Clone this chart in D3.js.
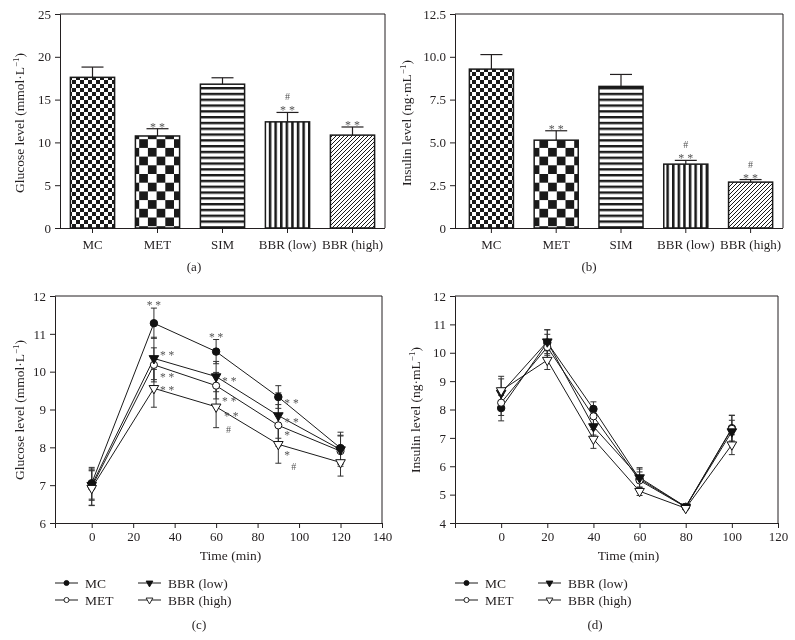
<!DOCTYPE html>
<html><head><meta charset="utf-8">
<script src="https://cdn.jsdelivr.net/npm/d3@7"></script>
<style>
body{margin:0;background:#fff;}
svg{display:block;will-change:transform;}
text{font-family:"Liberation Serif","DejaVu Serif",serif;fill:#231f20;}
</style></head>
<body>
<svg id="chart" width="795" height="640"></svg>
<script>
// ---------- data ----------
const barCats = ["MC", "MET", "SIM", "BBR (low)", "BBR (high)"];
const glucoseBar = [17.6, 10.75, 16.8, 12.4, 10.85];
const glucoseBarErr = [1.2, 0.85, 0.75, 1.1, 0.95];
const glucoseBarSig = ["", "**", "", "**", "**"];
const glucoseBarHash = ["", "", "", "#", ""];
const glucoseTicks = [0, 5, 10, 15, 20, 25];

const insulinBar = [9.28, 5.13, 8.27, 3.73, 2.68];
const insulinBarErr = [0.85, 0.55, 0.7, 0.22, 0.15];
const insulinBarSig = ["", "**", "", "**", "**"];
const insulinBarHash = ["", "", "", "#", "#"];
const insulinTicks = [0, 2.5, 5.0, 7.5, 10.0, 12.5];

const seriesNames = ["MC", "MET", "BBR (low)", "BBR (high)"];

const ogttTimes = [0, 30, 60, 90, 120];
const ogttMC   = [7.05, 11.28, 10.53, 9.33, 7.98];
const ogttMET  = [6.95, 10.18, 9.63, 8.58, 7.90];
const ogttLow  = [7.00, 10.35, 9.87, 8.84, 7.94];
const ogttHigh = [6.92, 9.56, 9.07, 8.08, 7.60];
const ogttMCErr   = [0.42, 0.40, 0.32, 0.30, 0.42];
const ogttMETErr  = [0.48, 0.45, 0.35, 0.55, 0.40];
const ogttLowErr  = [0.40, 0.56, 0.40, 0.60, 0.38];
const ogttHighErr = [0.46, 0.50, 0.55, 0.50, 0.36];
const ogttYTicks = [6, 7, 8, 9, 10, 11, 12];
const ogttXTicks = [0, 20, 40, 60, 80, 100, 120, 140];
// significance marks: [series index, time index, text]
const ogttSig = [
  [0, 1, "* *"], [2, 1, "* *"], [1, 1, "* *"], [3, 1, "* *"],
  [0, 2, "* *"], [2, 2, "* *"], [1, 2, "* *"], [3, 2, "* *"], [3, 2, "#"],
  [0, 3, "* *"], [2, 3, "* *"], [1, 3, "*"], [3, 3, "*"], [3, 3, "#"]
];

const itTimes = [0, 20, 40, 60, 80, 100];
const itMC   = [8.05, 10.36, 8.02, 5.55, 4.57, 7.34];
const itMET  = [8.24, 10.20, 7.76, 5.50, 4.56, 7.32];
const itLow  = [8.58, 10.39, 7.40, 5.60, 4.57, 7.22];
const itHigh = [8.67, 9.74, 6.96, 5.12, 4.52, 6.76];
const itMCErr   = [0.45, 0.45, 0.25, 0.35, 0.05, 0.45];
const itMETErr  = [0.45, 0.45, 0.30, 0.30, 0.05, 0.48];
const itLowErr  = [0.50, 0.42, 0.30, 0.35, 0.05, 0.40];
const itHighErr = [0.50, 0.33, 0.33, 0.15, 0.05, 0.35];
const itYTicks = [4, 5, 6, 7, 8, 9, 10, 11, 12];
const itXTicks = [0, 20, 40, 60, 80, 100, 120];

// ---------- drawing ----------
const svg = d3.select("#chart");
const defs = svg.append("defs");

function markText(sel) {
  return sel.style("fill", "#555");
}

function pat(id, w, h, build) {
  const p = defs.append("pattern").attr("id", id).attr("patternUnits", "userSpaceOnUse")
    .attr("width", w).attr("height", h);
  p.append("rect").attr("width", w).attr("height", h).attr("fill", "#fff");
  build(p);
}
pat("pFine", 8, 8, p => {
  p.append("rect").attr("x", 0).attr("y", 0).attr("width", 4).attr("height", 4).attr("fill", "#1a1a1a");
  p.append("rect").attr("x", 4).attr("y", 4).attr("width", 4).attr("height", 4).attr("fill", "#1a1a1a");
});
pat("pCoarse", 17.4, 17.4, p => {
  p.append("rect").attr("x", 0).attr("y", 0).attr("width", 8.7).attr("height", 8.7).attr("fill", "#1a1a1a");
  p.append("rect").attr("x", 8.7).attr("y", 8.7).attr("width", 8.7).attr("height", 8.7).attr("fill", "#1a1a1a");
});
pat("pH", 8, 5.8, p => {
  p.append("rect").attr("x", 0).attr("y", 0).attr("width", 8).attr("height", 2.4).attr("fill", "#1a1a1a");
});
pat("pV", 5.6, 8, p => {
  p.append("rect").attr("x", 0).attr("y", 0).attr("width", 2.5).attr("height", 8).attr("fill", "#1a1a1a");
});
pat("pD", 4, 4, p => {
  p.append("path").attr("d", "M-1,1 L1,-1 M0,4 L4,0 M3,5 L5,3")
    .attr("stroke", "#1a1a1a").attr("stroke-width", 1);
});
const barPatterns = ["url(#pFine)", "url(#pCoarse)", "url(#pH)", "url(#pV)", "url(#pD)"];

function yTitle(x, yc, main, tail) {
  const t = svg.append("text").attr("transform", `translate(${x},${yc}) rotate(-90)`)
    .attr("text-anchor", "middle").attr("font-size", 13.5);
  t.append("tspan").text(main);
  t.append("tspan").attr("font-size", 9).attr("dy", -5).text("−1");
  t.append("tspan").attr("dy", 5).text(tail);
}

function styleAxis(g) {
  g.selectAll("path,line").attr("stroke", "#231f20").attr("stroke-width", 1);
  g.selectAll("text").attr("font-size", 13).attr("fill", "#231f20")
    .attr("font-family", '"Liberation Serif","DejaVu Serif",serif');
}

function frame(L, R, T, B) {
  svg.append("path").attr("d", `M${L},${T} H${R} V${B}`).attr("fill", "none")
    .attr("stroke", "#231f20").attr("stroke-width", 1);
}

function barPanel(o) {
  const {L, R, T, B, bandL, bandR, vals, errs, sig, hash, ticks, fmt, max} = o;
  const x = d3.scaleBand().domain(barCats).range([bandL, bandR]).paddingInner(0.32).paddingOuter(0.16);
  const y = d3.scaleLinear().domain([0, max]).range([B, T]);
  frame(L, R, T, B);
  const ga = svg.append("g").attr("transform", `translate(${L},0)`)
    .call(d3.axisLeft(y).tickValues(ticks).tickSize(5).tickPadding(4).tickFormat(fmt));
  styleAxis(ga);
  const gb = svg.append("g").attr("transform", `translate(0,${B})`)
    .call(d3.axisBottom(x).tickSize(5).tickPadding(7));
  styleAxis(gb);
  gb.select(".domain").attr("d", `M${L},0.5H${R}`);
  const g = svg.append("g");
  barCats.forEach((c, i) => {
    const cx = x(c) + x.bandwidth() / 2;
    const top = y(vals[i] + errs[i]);
    g.append("line").attr("x1", cx).attr("x2", cx).attr("y1", y(vals[i])).attr("y2", top)
      .attr("stroke", "#231f20").attr("stroke-width", 1.2);
    g.append("line").attr("x1", cx - 11).attr("x2", cx + 11).attr("y1", top).attr("y2", top)
      .attr("stroke", "#231f20").attr("stroke-width", 1.2);
    g.append("rect").attr("x", x(c)).attr("y", y(vals[i])).attr("width", x.bandwidth())
      .attr("height", y(0) - y(vals[i])).attr("fill", barPatterns[i])
      .attr("stroke", "#1a1a1a").attr("stroke-width", 1.5);
    if (sig[i]) markText(g.append("text").attr("x", cx).attr("y", top + 2).attr("text-anchor", "middle")
      .attr("font-size", 12)).text("* *");
    if (hash[i]) markText(g.append("text").attr("x", cx).attr("y", top - 12).attr("text-anchor", "middle")
      .attr("font-size", 10)).text(hash[i]);
  });
}

const sym = [
  {type: d3.symbolCircle, fill: "#111", size: 44, rot: 0},
  {type: d3.symbolCircle, fill: "#fff", size: 40, rot: 0},
  {type: d3.symbolTriangle, fill: "#111", size: 40, rot: 180},
  {type: d3.symbolTriangle, fill: "#fff", size: 40, rot: 180}
];

function linePanel(o) {
  const {L, R, T, B, xDom, yDom, times, series, errs, xTicks, yTicks} = o;
  const x = d3.scaleLinear().domain(xDom).range([L, R]);
  const y = d3.scaleLinear().domain(yDom).range([B, T]);
  frame(L, R, T, B);
  const ga = svg.append("g").attr("transform", `translate(${L},0)`)
    .call(d3.axisLeft(y).tickValues(yTicks).tickSize(5).tickPadding(4).tickFormat(d3.format("d")));
  styleAxis(ga);
  const gb = svg.append("g").attr("transform", `translate(0,${B})`)
    .call(d3.axisBottom(x).tickValues(xTicks).tickSize(5).tickPadding(4).tickFormat(d3.format("d")));
  styleAxis(gb);
  const line = d3.line().x((d, i) => x(times[i])).y(d => y(d));
  const g = svg.append("g");
  series.forEach((s) => {
    g.append("path").datum(s).attr("d", line).attr("fill", "none")
      .attr("stroke", "#1a1a1a").attr("stroke-width", 1);
  });
  series.forEach((s, k) => {
    s.forEach((v, i) => {
      const cx = x(times[i]);
      const y1 = y(v + errs[k][i]), y2 = y(v - errs[k][i]);
      g.append("line").attr("x1", cx).attr("x2", cx).attr("y1", y1).attr("y2", y2)
        .attr("stroke", "#333").attr("stroke-width", 1);
      [y1, y2].forEach(yy => g.append("line").attr("x1", cx - 3).attr("x2", cx + 3)
        .attr("y1", yy).attr("y2", yy).attr("stroke", "#333").attr("stroke-width", 1));
    });
  });
  series.forEach((s, k) => {
    s.forEach((v, i) => {
      g.append("path").attr("d", d3.symbol().type(sym[k].type).size(sym[k].size)())
        .attr("transform", `translate(${x(times[i])},${y(v)}) rotate(${sym[k].rot})`)
        .attr("fill", sym[k].fill).attr("stroke", "#111").attr("stroke-width", 1);
    });
  });
  svg.append("text").attr("x", (L + R) / 2 + 12).attr("y", B + 37).attr("text-anchor", "middle")
    .attr("font-size", 13.5).text("Time (min)");
  return {x, y};
}

function legend(x0, y0, x1) {
  const cols = [x0, x0, x1, x1], rows = [y0, y0 + 17, y0, y0 + 17];
  seriesNames.forEach((n, k) => {
    const lx = cols[k], ly = rows[k];
    svg.append("line").attr("x1", lx).attr("x2", lx + 23).attr("y1", ly).attr("y2", ly)
      .attr("stroke", "#1a1a1a").attr("stroke-width", 1);
    svg.append("path").attr("d", d3.symbol().type(sym[k].type).size(20)())
      .attr("transform", `translate(${lx + 11.5},${ly}) rotate(${sym[k].rot})`)
      .attr("fill", sym[k].fill).attr("stroke", "#111").attr("stroke-width", 0.9);
    svg.append("text").attr("x", lx + 30).attr("y", ly + 4.5).attr("font-size", 13.5).text(n);
  });
}

function panelLabel(x, y, t) {
  svg.append("text").attr("x", x).attr("y", y).attr("text-anchor", "middle").attr("font-size", 13).text(t);
}

// (a)
barPanel({L: 60, R: 385, T: 14, B: 228, bandL: 60, bandR: 385, vals: glucoseBar, errs: glucoseBarErr,
  sig: glucoseBarSig, hash: glucoseBarHash, ticks: glucoseTicks, fmt: d3.format("d"), max: 25});
yTitle(24, 123, "Glucose level (mmol·L", ")");
panelLabel(194, 271, "(a)");

// (b)
barPanel({L: 455, R: 783, T: 14, B: 228, bandL: 459, bandR: 783, vals: insulinBar, errs: insulinBarErr,
  sig: insulinBarSig, hash: insulinBarHash, ticks: insulinTicks,
  fmt: d => d === 0 ? "0" : d3.format(".1f")(d), max: 12.5});
yTitle(411, 123, "Insulin level (ng·mL", ")");
panelLabel(589, 271, "(b)");

// (c)
const pc = linePanel({L: 55, R: 382, T: 296, B: 523, xDom: [-17.7, 140], yDom: [6, 12],
  times: ogttTimes, series: [ogttMC, ogttMET, ogttLow, ogttHigh],
  errs: [ogttMCErr, ogttMETErr, ogttLowErr, ogttHighErr], xTicks: ogttXTicks, yTicks: ogttYTicks});
yTitle(24, 410, "Glucose level (mmol·L", ")");
{
  const ser = [ogttMC, ogttMET, ogttLow, ogttHigh];
  const errS = [ogttMCErr, ogttMETErr, ogttLowErr, ogttHighErr];
  // baseline offsets (px) for each significance mark, in the same order as ogttSig
  const off = [[0, "above"], [6, 1], [6, 16], [6, 6], [0, "above"], [6, 8], [6, 19], [8, 13], [10, 26],
               [6, 10], [6, 10], [6, 14], [6, 15], [13, 26]];
  ogttSig.forEach(([k, i, t], j) => {
    const px = pc.x(ogttTimes[i]), py = pc.y(ser[k][i]);
    const [dx, dy] = off[j];
    if (dy === "above") {
      markText(svg.append("text").attr("x", px).attr("y", pc.y(ser[k][i] + errS[k][i]) + 1)
        .attr("text-anchor", "middle").attr("font-size", 11.5)).text(t);
    } else {
      markText(svg.append("text").attr("x", px + dx).attr("y", py + dy)
        .attr("font-size", t === "#" ? 10 : 11.5)).text(t);
    }
  });
}
legend(55, 583, 138);
panelLabel(199, 629, "(c)");

// (d)
linePanel({L: 455, R: 778, T: 296, B: 523, xDom: [-20, 120], yDom: [4, 12],
  times: itTimes, series: [itMC, itMET, itLow, itHigh],
  errs: [itMCErr, itMETErr, itLowErr, itHighErr], xTicks: itXTicks, yTicks: itYTicks});
yTitle(420, 410, "Insulin level (ng·mL", ")");
legend(455, 583, 538);
panelLabel(595, 629, "(d)");
</script>
</body></html>
